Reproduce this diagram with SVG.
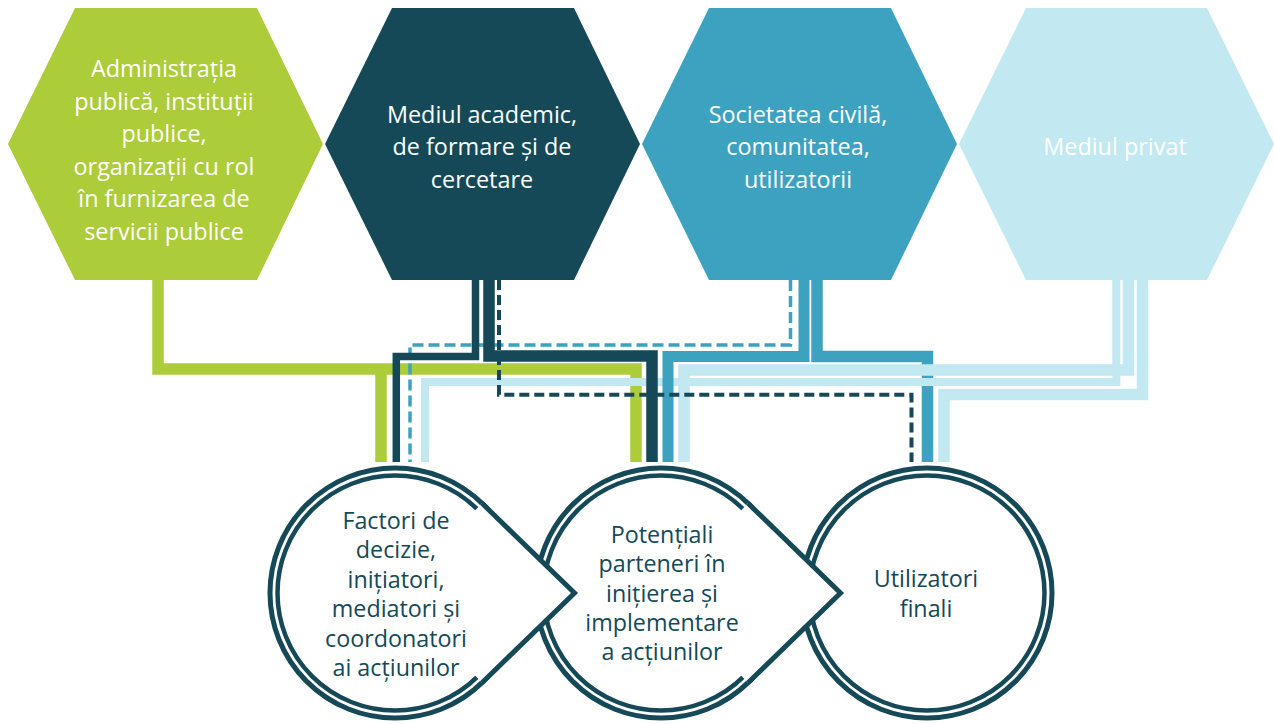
<svg xmlns="http://www.w3.org/2000/svg" width="1275" height="724" viewBox="0 0 1275 724">
<style>
.hx{font-family:"Open Sans","Liberation Sans",sans-serif;font-size:23.4px;fill:#ffffff;text-anchor:middle}
.ct{font-family:"Open Sans","Liberation Sans",sans-serif;font-size:23.3px;fill:#154957;text-anchor:middle}
.ln{fill:none;stroke-linejoin:miter;stroke-linecap:butt}
.g{stroke:#ADCC3A;stroke-width:11.5}
.d{stroke:#154957}
.b{stroke:#3DA2BF}
.l{stroke:#C2E8F1}
.ring{fill:none;stroke:#154957}
</style>
<rect width="1275" height="724" fill="#ffffff"/>
<g id="hex1">
<polygon points="75,8 257,8 323,144 257,280 75,280 8,144" fill="#ADCC3A"/>
<text class="hx" x="164" y="77">Administrația</text>
<text class="hx" x="164" y="109.6">publică, instituții</text>
<text class="hx" x="164" y="142.2">publice,</text>
<text class="hx" x="164" y="174.8">organizații cu rol</text>
<text class="hx" x="164" y="207.4">în furnizarea de</text>
<text class="hx" x="164" y="240">servicii publice</text>
</g>
<g id="hex2">
<polygon points="392,8 574,8 640,144 574,280 392,280 325,144" fill="#154957"/>
<text class="hx" x="482" y="122.5">Mediul academic,</text>
<text class="hx" x="482" y="155">de formare și de</text>
<text class="hx" x="482" y="187.5">cercetare</text>
</g>
<g id="hex3">
<polygon points="709,8 891,8 957,144 891,280 709,280 642,144" fill="#3DA2BF"/>
<text class="hx" x="798" y="122.5">Societatea civilă,</text>
<text class="hx" x="798" y="155">comunitatea,</text>
<text class="hx" x="798" y="187.5">utilizatorii</text>
</g>
<g id="hex4">
<polygon points="1026,8 1207,8 1274,144 1207,280 1026,280 959,144" fill="#C2E8F1"/>
<text class="hx" x="1115" y="155">Mediul privat</text>
</g>
<g id="connectors">
<path class="ln g" d="M158,278 V369 H636 V462"/>
<path class="ln g" d="M381,369 V462"/>
<path class="ln b" stroke-width="11.5" d="M817,278 V356.5 H927.5 V462"/>
<path class="ln l" stroke-width="11.5" d="M1142.5,278 V394.5 H944 V462"/>
<path class="ln l" stroke-width="11.5" d="M1128.5,278 V370 H684 V462"/>
<path class="ln l" stroke-width="8" d="M1116.3,278 V382 H425 V462"/>
<path class="ln b" stroke-width="3.5" stroke-dasharray="11 5" d="M790.5,280 V345 H410 V462"/>
<path class="ln d" stroke-width="7.5" d="M475.5,278 V356.5 H396.3 V462"/>
<path class="ln d" stroke-width="11.5" d="M489,278 V356 H652 V462"/>
<path class="ln b" stroke-width="11" d="M804,278 V356.5 H668 V462"/>
<path class="ln d" stroke-width="4" stroke-dasharray="10 5" d="M499,280 V394.7 H911.5 V462"/>
</g>
<g id="circle3">
<circle class="ring" cx="927" cy="593" r="125" stroke-width="5"/>
<circle class="ring" cx="927" cy="593" r="117.5" stroke-width="4.5"/>
<text class="ct" x="926" y="587">Utilizatori</text>
<text class="ct" x="926" y="616.5">finali</text>
</g>
<g id="circle2">
<circle class="ring" cx="661" cy="593" r="125" stroke-width="5"/>
<circle class="ring" cx="661" cy="593" r="117.5" stroke-width="4.5"/>
<polygon points="748.05,503.3 840.5,593 748.05,682.7 661,593" fill="#ffffff"/>
<polyline class="ring" stroke-width="5" points="748.05,503.3 840.5,593 748.05,682.7"/>
<text class="ct" x="662" y="543">Potențiali</text>
<text class="ct" x="662" y="572.25">parteneri în</text>
<text class="ct" x="662" y="601.5">inițierea și</text>
<text class="ct" x="662" y="630.75">implementare</text>
<text class="ct" x="662" y="660">a acțiunilor</text>
</g>
<g id="circle1">
<circle class="ring" cx="395" cy="593" r="125" stroke-width="5"/>
<circle class="ring" cx="395" cy="593" r="117.5" stroke-width="4.5"/>
<polygon points="482.05,503.3 574.5,593 482.05,682.7 395,593" fill="#ffffff"/>
<polyline class="ring" stroke-width="5" points="482.05,503.3 574.5,593 482.05,682.7"/>
<text class="ct" x="396" y="529">Factori de</text>
<text class="ct" x="396" y="558.4">decizie,</text>
<text class="ct" x="396" y="587.8">inițiatori,</text>
<text class="ct" x="396" y="617.2">mediatori și</text>
<text class="ct" x="396" y="646.6">coordonatori</text>
<text class="ct" x="396" y="676">ai acțiunilor</text>
</g>
</svg>
